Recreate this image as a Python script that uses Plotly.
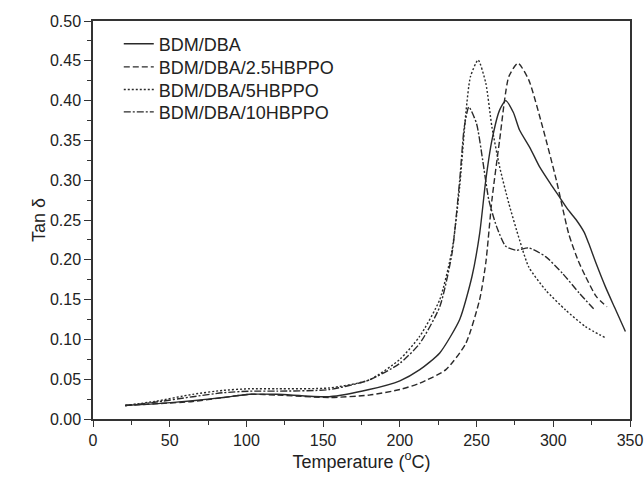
import plotly.graph_objects as go

# BDM/DBA (solid)
t_bdm = [21, 40, 65, 85, 102, 120, 154, 180, 200, 213, 226, 239, 247, 252, 256, 260, 265, 269, 274, 278, 285, 291, 298, 304, 310, 315, 320, 323, 328, 334, 340, 347]
v_bdm = [0.017, 0.019, 0.023, 0.027, 0.031, 0.031, 0.028, 0.037, 0.048, 0.062, 0.083, 0.125, 0.179, 0.233, 0.300, 0.350, 0.388, 0.400, 0.385, 0.363, 0.340, 0.317, 0.296, 0.279, 0.262, 0.250, 0.235, 0.221, 0.195, 0.166, 0.140, 0.110]

# BDM/DBA/2.5HBPPO (dashed)
t_25 = [21, 40, 65, 85, 102, 120, 154, 180, 200, 213, 230, 243, 252, 256, 260, 265, 271, 277, 284, 293, 302, 310, 316, 321, 328, 335]
v_25 = [0.017, 0.019, 0.022, 0.027, 0.031, 0.030, 0.027, 0.030, 0.037, 0.045, 0.062, 0.095, 0.150, 0.196, 0.275, 0.350, 0.430, 0.447, 0.426, 0.367, 0.300, 0.233, 0.200, 0.179, 0.154, 0.141]

# BDM/DBA/5HBPPO (dotted)
t_5 = [21, 40, 65, 85, 102, 120, 154, 180, 200, 213, 226, 234, 239, 243, 246, 251, 256, 260, 265, 271, 278, 284, 295, 308, 321, 334]
v_5 = [0.017, 0.022, 0.031, 0.036, 0.038, 0.038, 0.039, 0.049, 0.075, 0.104, 0.150, 0.212, 0.292, 0.384, 0.430, 0.451, 0.422, 0.367, 0.317, 0.271, 0.225, 0.191, 0.162, 0.137, 0.116, 0.102]

# BDM/DBA/10HBPPO (dash-dot)
t_10 = [21, 40, 65, 85, 102, 120, 154, 180, 200, 213, 226, 234, 239, 242, 245, 250, 254, 258, 263, 269, 276, 284, 295, 306, 317, 327]
v_10 = [0.017, 0.021, 0.028, 0.033, 0.035, 0.035, 0.037, 0.049, 0.070, 0.095, 0.141, 0.208, 0.300, 0.367, 0.392, 0.371, 0.325, 0.275, 0.242, 0.217, 0.212, 0.215, 0.204, 0.183, 0.158, 0.137]

names = ["BDM/DBA", "BDM/DBA/2.5HBPPO", "BDM/DBA/5HBPPO", "BDM/DBA/10HBPPO"]
dashes = ["solid", "6px,3px", "2px,2px", "7px,2px,2px,2px"]
xs = [t_bdm, t_25, t_5, t_10]
ys = [v_bdm, v_25, v_5, v_10]
legend_ids = ["legend", "legend2", "legend3", "legend4"]
legend_y = [0.942, 0.884, 0.827, 0.771]

fig = go.Figure()
for n, d, x, y, lg in zip(names, dashes, xs, ys, legend_ids):
    fig.add_trace(go.Scatter(x=x, y=y, name=n, mode="lines", legend=lg,
                             line=dict(color="#2a2a2a", width=1.4, dash=d, shape="spline", smoothing=0.6)))

font = "Liberation Sans, Arial, sans-serif"
leg_common = dict(x=0.048, xanchor="left", yanchor="middle",
                  font=dict(size=18, color="#222"), bgcolor="rgba(0,0,0,0)")
fig.update_layout(
    width=644, height=483,
    margin=dict(l=93, r=14, t=21, b=64, autoexpand=False),
    paper_bgcolor="white", plot_bgcolor="white",
    font=dict(family=font, color="#222", size=16),
    showlegend=True,
    legend=dict(y=legend_y[0], **leg_common),
    legend2=dict(y=legend_y[1], **leg_common),
    legend3=dict(y=legend_y[2], **leg_common),
    legend4=dict(y=legend_y[3], **leg_common),
    xaxis=dict(range=[0, 350], dtick=50, tick0=0, ticks="outside", ticklen=6, tickwidth=1.2,
               tickcolor="#333", showline=True, linecolor="#333", linewidth=1.5, mirror=True,
               showgrid=False, zeroline=False, automargin=False,
               minor=dict(dtick=25, ticks="outside", ticklen=4, tickcolor="#333", showgrid=False),
               title=dict(text="Temperature (<sup>o</sup>C)", font=dict(size=18), standoff=2),
               tickfont=dict(size=16)),
    yaxis=dict(range=[0, 0.5], dtick=0.05, tick0=0, tickformat=".2f", ticks="outside", ticklen=7,
               tickwidth=1.2, tickcolor="#333", showline=True, linecolor="#333", linewidth=1.5,
               mirror=True, showgrid=False, zeroline=False, automargin=False,
               minor=dict(dtick=0.025, ticks="outside", ticklen=4, tickcolor="#333", showgrid=False),
               title=dict(text="Tan δ", font=dict(size=18), standoff=0),
               tickfont=dict(size=16)),
)

fig.write_html("out.html")
